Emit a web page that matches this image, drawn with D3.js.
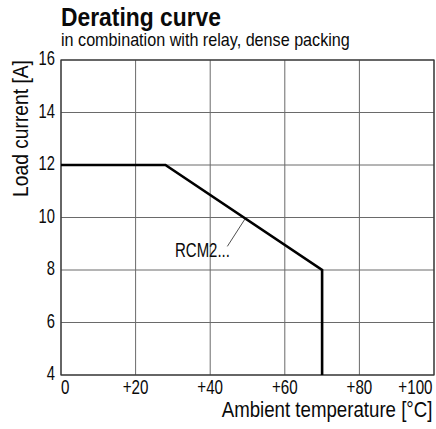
<!DOCTYPE html>
<html><head><meta charset="utf-8">
<script src="https://cdn.jsdelivr.net/npm/d3@7"></script>
<style>
body{margin:0;background:#fff;}
text{font-family:"Liberation Sans",Arial,sans-serif;fill:#0a0a0a;}
</style></head><body>
<svg id="c" width="436" height="429"></svg>
<script>
const temps = [0, 28, 70, 70];
const currents = [12, 12, 8, 4];
const xTicks = [0, 20, 40, 60, 80, 100];
const xTickLabels = ["0", "+20", "+40", "+60", "+80", "+100"];
const yTicks = [4, 6, 8, 10, 12, 14, 16];
const seriesLabel = "RCM2...";
const title = "Derating curve";
const subtitle = "in combination with relay, dense packing";
const xTitle = "Ambient temperature [°C]";
const yTitle = "Load current [A]";

const svg = d3.select("#c");
const x = d3.scaleLinear().domain([0, 100]).range([61, 434]);
const y = d3.scaleLinear().domain([4, 16]).range([375, 60]);

// condensed text: placed at (px,py) with anchor, squeezed horizontally by factor f (or to width W)
function ctext(g, str, px, py, size, opts = {}) {
  const t = g.append("text").attr("font-size", size).attr("text-anchor", opts.anchor || "start")
    .attr("font-weight", opts.weight || "normal").text(str);
  let f = opts.f || 0.75;
  if (opts.width) f = opts.width / t.node().getComputedTextLength();
  const rot = opts.rotate ? ` rotate(${opts.rotate})` : "";
  t.attr("transform", `translate(${px},${py})${rot} scale(${f},1)`);
  return t;
}

ctext(svg, title, 61, 26, 25.5, {weight: "bold", width: 160});
ctext(svg, subtitle, 61, 45.7, 18.5, {width: 289});

// grid
svg.append("g").selectAll("line").data(xTicks).join("line")
  .attr("x1", d => x(d)).attr("x2", d => x(d)).attr("y1", y(4)).attr("y2", y(16))
  .attr("stroke", "#6a6a6a").attr("stroke-width", 1);
svg.append("g").selectAll("line").data(yTicks).join("line")
  .attr("x1", x(0)).attr("x2", x(100)).attr("y1", d => y(d)).attr("y2", d => y(d))
  .attr("stroke", "#6a6a6a").attr("stroke-width", 1);
svg.append("rect").attr("x", x(0)).attr("y", y(16)).attr("width", x(100) - x(0)).attr("height", y(4) - y(16))
  .attr("fill", "none").attr("stroke", "#333").attr("stroke-width", 1.2);

// tick labels
const gy = svg.append("g");
yTicks.forEach(d => ctext(gy, String(d), 55, y(d) + 5, 20.5, {anchor: "end", f: 0.72}));
const gx = svg.append("g");
xTicks.forEach((d, i) => ctext(gx, xTickLabels[i], i === xTicks.length - 1 ? 432.5 : x(d), 393.5, 20.5,
  {anchor: i === 0 ? "start" : (i === xTicks.length - 1 ? "end" : "middle"), f: 0.74}));

ctext(svg, xTitle, 432.5, 417, 22, {anchor: "end", width: 211});
ctext(svg, yTitle, 28, 128.5, 22, {anchor: "middle", width: 137, rotate: -90});

// curve
const line = d3.line().x(d => x(d[0])).y(d => y(d[1]));
svg.append("path").datum(temps.map((t, i) => [t, currents[i]]))
  .attr("d", line).attr("fill", "none").attr("stroke", "#000").attr("stroke-width", 2.6).attr("stroke-linejoin", "miter");

// label with leader
svg.append("line").attr("x1", x(44.6)).attr("y1", y(8.9)).attr("x2", x(49.4)).attr("y2", y(9.96))
  .attr("stroke", "#222").attr("stroke-width", 0.8);
ctext(svg, seriesLabel, 175, 257.3, 19.5, {width: 55});
</script></body></html>
